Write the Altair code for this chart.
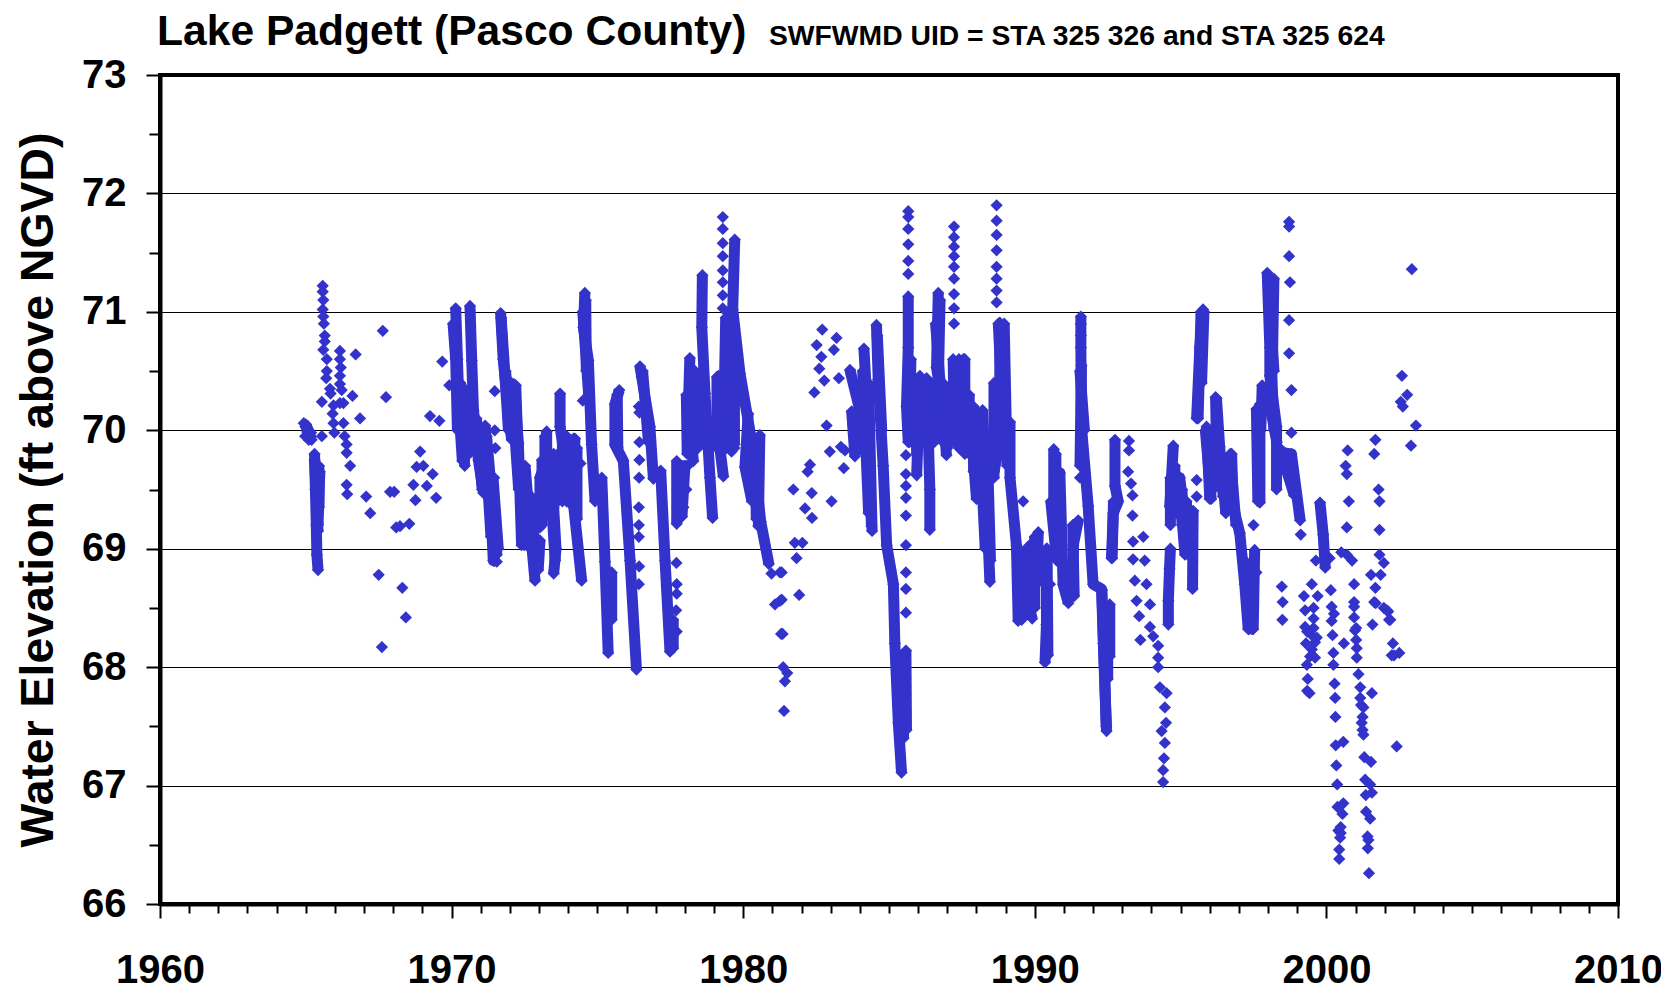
import altair as alt
import pandas as pd

TITLE = "Lake Padgett (Pasco County)"
SUBTITLE = "SWFWMD UID = STA 325 326 and STA 325 624"
Y_TITLE = "Water Elevation (ft above NGVD)"
COLOR = "#3333CC"
FONT = "Liberation Sans"

x_ticks = list(range(1960, 2011))
y_ticks = [66 + i * 0.5 for i in range(15)]

# Isolated readings (year, elevation)
points_1960s = [
    (1965.58,71.22),(1965.58,71.17),(1965.6,71.1),(1965.58,71.02),(1965.6,70.96),(1965.62,70.9),(1965.65,70.8),(1965.65,70.75),
    (1965.6,70.68),(1965.72,70.6),(1965.72,70.5),(1965.7,70.44),(1965.83,70.35),(1965.85,70.31),(1965.95,70.21),(1965.92,70.14),
    (1965.95,70.06),(1965.98,69.98),(1966.17,70.67),(1966.17,70.6),(1966.2,70.53),(1966.17,70.46),(1966.17,70.39),(1966.23,70.34),
    (1966.29,70.23),(1966.17,70.23),(1966.6,70.29),(1966.71,70.64),(1965.55,70.24),(1966.29,70.06),(1966.33,69.95),(1966.4,69.88),
    (1966.4,69.81),(1966.52,69.7),(1966.4,69.54),(1966.42,69.46),(1966.86,70.1),(1967.07,69.44),(1967.21,69.3),(1967.5,68.78),
    (1967.64,70.84),(1967.75,70.28),(1967.61,68.17),(1967.89,69.48),(1968.03,69.48),(1968.1,69.18),(1968.23,69.19),(1968.55,69.21),
    (1968.31,68.67),(1968.43,68.42),(1968.69,69.54),(1969.15,69.53),(1968.76,69.41),(1969.47,69.43),(1969.35,69.63),(1968.8,69.69),
    (1969.03,69.7),(1968.92,69.82),(1969.26,70.12),(1969.58,70.08),(1969.68,70.58),(1969.92,70.38),(1965.55,69.95),
]
points_1970s = [
    (1971.48,70.33),(1971.48,70.0),(1971.5,69.85),(1971.46,69.6),(1973.0,69.05),(1974.42,69.72),(1974.5,70.25),
    (1976.44,69.75),(1976.44,69.9),(1976.43,69.6),(1976.42,69.35),(1976.42,69.2),(1976.42,69.1),(1976.43,68.85),(1976.42,68.7),
    (1976.44,70.15),(1976.42,70.2),(1977.71,68.88),(1977.72,68.7),(1977.72,68.62),(1977.7,68.48),(1977.72,68.3),
    (1979.3,71.8),(1979.3,71.7),(1979.3,71.58),(1979.3,71.47),(1979.3,71.35),(1979.3,71.25),(1979.3,71.14),(1979.3,71.03),
]
points_1980s = [
    (1980.97,68.79),(1981.26,68.8),(1981.09,68.53),(1981.26,68.56),(1981.3,68.28),
    (1982.71,70.85),(1982.52,70.72),(1983.2,70.78),(1982.68,70.62),(1983.11,70.68),(1982.61,70.52),(1982.78,70.42),(1983.28,70.44),
    (1982.44,70.32),(1982.86,70.04),(1982.97,69.82),(1983.35,69.86),(1983.49,69.83),(1983.45,69.68),(1983.03,69.4),(1982.29,69.71),
    (1982.21,69.65),(1981.72,69.5),(1982.35,69.47),(1982.12,69.34),(1982.36,69.26),(1981.77,69.05),(1982.03,69.05),(1981.83,68.92),
    (1981.92,68.61),(1981.32,68.8),(1981.32,68.57),(1981.35,68.28),(1981.37,68.0),(1981.51,67.95),(1981.43,67.88),(1981.4,67.63),
    (1985.58,68.46),(1985.58,68.66),(1985.58,68.8),(1985.58,69.03),(1985.58,69.28),(1985.58,69.43),(1985.58,69.53),(1985.58,69.63),(1985.58,69.79),
    (1985.66,71.85),(1985.66,71.8),(1985.66,71.7),(1985.66,71.57),(1985.66,71.43),(1985.66,71.32),
    (1987.23,71.72),(1987.23,71.63),(1987.23,71.55),(1987.23,71.47),(1987.23,71.38),(1987.23,71.28),(1987.23,71.15),(1987.23,71.03),(1987.23,70.9),
    (1988.69,71.9),(1988.69,71.77),(1988.69,71.65),(1988.69,71.52),(1988.69,71.38),(1988.69,71.28),(1988.69,71.18),(1988.69,71.08),
    (1989.6,69.4),(1990.4,69.0),(1990.52,68.7),(1990.47,68.95),
]
points_1990s = [
    (1991.58,70.9),(1991.58,70.8),(1991.55,69.6),
    (1993.23,69.91),(1993.23,69.83),(1993.2,69.65),(1993.3,69.55),(1993.35,69.45),(1993.35,69.28),(1993.37,69.06),(1993.37,68.91),
    (1993.43,68.73),(1993.49,68.56),(1993.72,69.1),(1993.77,68.9),(1993.83,68.7),(1993.95,68.53),(1993.58,68.43),(1993.62,68.23),
    (1993.95,68.34),(1994.06,68.26),(1994.23,68.18),(1994.23,68.08),(1994.23,68.0),(1994.29,67.83),(1994.52,67.78),(1994.46,67.66),
    (1994.5,67.53),(1994.35,67.46),(1994.46,67.36),(1994.43,67.23),(1994.4,67.13),(1994.4,67.03),
    (1995.55,69.58),(1995.55,69.44),(1996.0,69.6),(1997.6,68.8),(1997.5,69.2),
    (1998.47,68.68),(1998.5,68.55),(1998.49,68.4),
    (1998.72,71.76),(1998.72,71.72),(1998.72,71.47),(1998.75,71.25),(1998.72,70.93),(1998.72,70.65),(1998.8,70.34),(1998.8,69.98),
    (1999.34,67.8),(1999.33,68.02),(1999.36,67.9),(1999.42,67.78),(1999.56,68.5),(1999.27,68.48),(1999.56,68.41),(1999.27,68.34),
    (1999.56,68.33),(1999.5,68.27),(1999.67,68.25),(1999.61,68.21),(1999.3,68.2),(1999.5,68.15),(1999.61,68.08),(1999.44,68.09),
    (1999.23,68.6),(1999.34,68.3),(1999.12,69.12),(1999.5,68.7),(1999.7,68.6),(1999.64,68.9),
]
points_2000s = [
    (2000.18,68.51),(2000.18,68.39),(2000.21,68.27),(2000.24,68.12),(2000.24,68.02),(2000.28,67.86),(2000.3,67.74),(2000.31,67.58),
    (2000.32,67.34),(2000.58,67.37),(2000.34,67.17),(2000.37,67.01),(2000.58,66.85),(2000.38,66.82),(2000.55,66.76),(2000.49,66.65),
    (2000.41,66.62),(2000.49,66.6),(2000.47,66.56),(2000.44,66.46),(2000.44,66.38),(2000.6,68.2),
    (2000.95,68.51),(2000.95,68.42),(2000.98,68.31),(2001.02,68.23),(2001.04,68.16),(2001.04,68.08),(2001.1,67.94),(2001.16,67.83),
    (2001.16,67.74),(2001.19,67.68),(2001.27,67.66),(2001.24,67.58),(2001.21,67.53),(2001.24,67.47),(2001.27,67.43),(2001.3,67.24),
    (2001.53,67.2),(2001.33,67.05),(2001.5,67.01),(2001.56,66.94),(2001.35,66.92),(2001.36,66.78),(2001.5,66.72),(2001.41,66.57),
    (2001.44,66.54),(2001.42,66.47),(2001.46,66.26),(2001.56,67.78),(2001.58,68.36),(2001.69,68.54),(2002.07,68.48),(2002.15,68.4),
    (2002.28,68.2),(2002.24,68.1),(2002.32,68.1),(2002.5,68.12),(2002.41,67.33),
    (2000.73,69.83),(2000.66,69.7),(2000.7,69.63),(2000.77,69.4),(2000.7,69.18),(2000.7,68.95),(2000.88,68.9),(2000.95,68.7),(2000.95,68.55),
    (2001.02,68.33),(2000.11,68.92),(2000.15,68.65),(2000.26,68.45),(2000.51,68.97),
    (2001.68,69.92),(2001.64,69.8),(2001.79,69.5),(2001.82,69.4),(2001.82,69.16),(2001.82,68.95),(2001.97,68.88),(2001.86,68.78),
    (2001.53,68.78),(2001.68,68.67),(2001.64,68.55),(2001.97,68.5),(2002.12,68.47),(2002.19,68.4),
    (2002.59,70.46),(2002.77,70.3),(2002.55,70.24),(2002.62,70.2),(2003.07,70.04),(2002.93,71.36),(2002.9,69.87),
]

# Dense runs where the readings merge into bands: vertices read along each band
bands_1960s = [
    [(1964.93,70.06),(1965.05,70.02),(1965.2,69.92)],
    [(1964.98,69.95),(1965.18,69.98)],
    [(1965.0,70.05),(1965.1,69.92)],
    [(1965.3,69.8),(1965.33,69.5),(1965.36,69.2),(1965.38,68.95),(1965.42,68.82)],
    [(1965.45,69.7),(1965.45,69.35)],
    [(1965.3,69.75),(1965.42,69.15)],
    [(1965.48,69.65),(1965.42,69.2)],
]
bands_1970s = [
    [(1970.14,71.03),(1970.2,70.6),(1970.26,70.15),(1970.37,69.74)],
    [(1970.05,70.9),(1970.14,70.6),(1970.2,70.0)],
    [(1970.3,70.4),(1970.45,69.7)],
    [(1970.45,70.35),(1970.6,69.8)],
    [(1970.5,70.2),(1970.6,69.9)],
    [(1970.25,70.4),(1970.5,70.1)],
    [(1970.63,71.05),(1970.69,70.59),(1970.75,70.17),(1970.92,69.75),(1971.09,69.47)],
    [(1970.85,70.1),(1971.05,69.5)],
    [(1971.15,70.04),(1971.32,69.47),(1971.43,68.9),(1971.55,68.89)],
    [(1971.2,69.95),(1971.55,68.95)],
    [(1971.2,69.7),(1971.35,69.1)],
    [(1971.42,69.6),(1971.6,69.0)],
    [(1971.68,70.99),(1971.77,70.6),(1972.0,70.03),(1972.06,69.92)],
    [(1971.7,70.95),(1971.95,70.0)],
    [(1971.85,70.5),(1972.02,70.0)],
    [(1972.14,70.39),(1972.29,69.89),(1972.4,69.03)],
    [(1972.05,70.4),(1972.3,69.5)],
    [(1972.2,70.38),(1972.32,69.5)],
    [(1972.4,69.7),(1972.5,69.03)],
    [(1972.52,69.7),(1972.69,69.19),(1972.86,68.73)],
    [(1972.7,69.45),(1972.9,68.9)],
    [(1972.55,69.5),(1972.7,69.0)],
    [(1973.03,69.07),(1972.97,68.82)],
    [(1973.26,69.99),(1973.26,69.75),(1973.03,69.6),(1973.03,69.18)],
    [(1973.5,69.35),(1973.58,69.0),(1973.5,68.79)],
    [(1973.45,69.3),(1973.55,68.9)],
    [(1973.72,70.31),(1973.72,70.03),(1973.89,69.75),(1973.95,69.4)],
    [(1973.1,69.75),(1973.1,69.2)],
    [(1973.2,69.95),(1973.2,69.3)],
    [(1973.35,69.8),(1973.35,69.4)],
    [(1973.5,69.8),(1973.5,69.4)],
    [(1973.65,69.8),(1973.65,69.4)],
    [(1973.8,69.95),(1973.8,69.4)],
    [(1973.95,69.95),(1973.95,69.4)],
    [(1974.05,69.9),(1974.05,69.4)],
    [(1974.18,69.93),(1974.18,69.35)],
    [(1974.3,69.85),(1974.3,69.25)],
    [(1974.23,69.93),(1974.17,69.4),(1974.46,68.73)],
    [(1974.57,71.16),(1974.52,70.87),(1974.69,70.59),(1974.8,69.88),(1974.92,69.4)],
    [(1974.5,71.0),(1974.7,70.3)],
    [(1974.6,71.1),(1974.62,70.5)],
    [(1975.15,69.6),(1975.26,68.89),(1975.37,68.12)],
    [(1975.49,68.8),(1975.49,68.4)],
    [(1975.75,70.34),(1975.6,70.22),(1975.6,69.88),(1975.89,69.74),(1976.12,68.9),(1976.34,67.98)],
    [(1975.68,70.3),(1975.7,69.85)],
    [(1976.46,70.54),(1976.52,70.45),(1976.8,70.03),(1976.92,69.59)],
    [(1976.55,70.5),(1976.75,69.9)],
    [(1977.17,69.66),(1977.32,68.9),(1977.49,68.13)],
    [(1977.6,68.4),(1977.6,68.16)],
    [(1977.72,69.74),(1977.72,69.21)],
    [(1978.0,69.7),(1977.9,69.27)],
    [(1977.8,69.7),(1978.1,69.7)],
    [(1977.75,69.5),(1978.05,69.5)],
    [(1977.75,69.35),(1977.95,69.35)],
    [(1978.17,70.61),(1978.12,70.2),(1978.29,69.74)],
    [(1978.05,70.3),(1978.08,69.8)],
    [(1978.35,70.5),(1978.3,69.9)],
    [(1978.45,70.4),(1978.45,69.85)],
    [(1978.6,71.31),(1978.58,70.87),(1978.69,70.31),(1978.86,69.6),(1978.95,69.26)],
    [(1979.1,70.45),(1979.1,69.85)],
    [(1979.15,70.46),(1979.2,69.85),(1979.32,69.61)],
    [(1979.25,70.4),(1979.3,69.85)],
    [(1979.4,70.95),(1979.35,70.3),(1979.42,69.85)],
    [(1979.45,70.5),(1979.45,69.9)],
    [(1979.0,69.9),(1979.7,69.85)],
    [(1979.6,70.66),(1979.6,69.82)],
    [(1979.7,70.6),(1979.7,69.88)],
    [(1979.5,71.0),(1979.55,70.0)],
    [(1979.71,71.61),(1979.64,71.02),(1979.89,70.48),(1980.33,69.85),(1980.6,69.23),(1980.88,68.87)],
    [(1980.17,70.14),(1980.06,69.69),(1980.3,69.4)],
    [(1980.57,69.96),(1980.52,69.19)],
    [(1980.4,69.9),(1980.45,69.25)],
]
bands_1980s = [
    [(1983.72,70.16),(1983.83,69.78)],
    [(1983.9,70.16),(1983.85,69.8)],
    [(1983.66,70.51),(1984.0,70.17)],
    [(1984.14,70.69),(1984.29,70.03),(1984.33,69.6),(1984.4,69.19)],
    [(1984.1,70.5),(1984.3,69.3)],
    [(1984.3,70.4),(1984.42,69.15)],
    [(1984.57,70.89),(1984.63,70.43),(1984.8,69.7),(1984.92,69.03),(1985.15,68.7),(1985.2,68.2),(1985.32,67.53),(1985.43,67.11)],
    [(1984.6,70.8),(1984.75,70.0)],
    [(1985.58,68.14),(1985.6,67.47)],
    [(1985.45,68.1),(1985.5,67.4)],
    [(1985.66,71.13),(1985.66,70.7),(1985.6,70.2),(1985.66,69.9)],
    [(1985.75,70.6),(1985.7,69.9)],
    [(1985.8,70.4),(1985.8,69.9)],
    [(1986.06,70.46),(1985.95,69.62)],
    [(1985.9,70.4),(1985.95,69.8)],
    [(1986.15,70.43),(1986.15,69.9)],
    [(1986.29,70.44),(1986.4,69.5),(1986.4,69.16)],
    [(1986.45,70.4),(1986.5,69.9)],
    [(1986.55,70.4),(1986.55,69.9)],
    [(1986.69,71.16),(1986.63,70.53),(1986.86,70.16),(1986.97,69.79)],
    [(1986.6,70.9),(1986.75,70.4)],
    [(1986.75,71.1),(1986.7,70.5)],
    [(1986.85,70.4),(1986.85,69.9)],
    [(1987.55,70.6),(1987.32,70.53),(1987.09,70.26),(1987.43,69.86)],
    [(1987.0,70.3),(1987.0,69.85)],
    [(1987.2,70.6),(1987.25,69.9)],
    [(1987.4,70.6),(1987.4,69.85)],
    [(1987.6,70.6),(1987.6,69.8)],
    [(1987.75,70.3),(1987.75,69.8)],
    [(1987.9,70.2),(1987.9,69.65)],
    [(1987.77,70.17),(1988.0,69.42)],
    [(1988.21,70.17),(1988.35,69.36),(1988.46,68.72)],
    [(1988.1,70.0),(1988.3,69.0)],
    [(1988.4,69.6),(1988.48,68.9)],
    [(1988.8,70.91),(1988.8,70.37),(1988.57,69.86)],
    [(1988.75,70.9),(1988.92,70.03),(1988.6,69.65)],
    [(1988.6,70.4),(1988.6,69.6)],
    [(1988.95,70.9),(1989.05,69.7)],
    [(1989.15,70.07),(1989.15,69.6),(1989.37,69.03),(1989.43,68.39)],
    [(1989.55,68.95),(1989.55,68.4)],
    [(1989.7,69.0),(1989.7,68.45)],
    [(1989.77,68.92),(1989.77,68.53),(1989.91,68.41)],
    [(1989.9,69.05),(1989.9,68.5)],
    [(1990.0,69.1),(1990.0,68.5)],
    [(1990.12,69.14),(1990.06,68.7)],
]
bands_1990s = [
    [(1990.4,68.82),(1990.4,68.36),(1990.35,68.04)],
    [(1990.42,69.0),(1990.45,68.1)],
    [(1990.65,69.84),(1990.65,69.36),(1990.86,69.64),(1990.97,68.7),(1991.15,68.54)],
    [(1990.72,69.8),(1990.75,69.2)],
    [(1990.55,69.4),(1990.75,68.9)],
    [(1991.49,69.24),(1991.32,69.03),(1991.32,68.66)],
    [(1991.3,69.2),(1991.35,68.6)],
    [(1991.58,70.96),(1991.58,70.7),(1991.6,70.03),(1991.83,69.36),(1992.0,68.7),(1992.29,68.66),(1992.35,68.2),(1992.46,67.46)],
    [(1991.6,70.55),(1991.55,69.7)],
    [(1991.55,70.5),(1991.7,70.0)],
    [(1992.3,68.65),(1992.45,67.5)],
    [(1992.57,68.53),(1992.57,68.09)],
    [(1992.5,68.4),(1992.5,67.9)],
    [(1992.75,69.92),(1992.75,69.53),(1992.86,69.4),(1992.69,69.3),(1992.63,68.92)],
    [(1992.7,69.4),(1992.65,68.92)],
    [(1994.58,68.36),(1994.58,68.56),(1994.62,68.83),(1994.65,69.0)],
    [(1994.75,69.87),(1994.63,69.36),(1994.97,69.6),(1995.2,69.13)],
    [(1994.65,69.6),(1994.65,69.2)],
    [(1994.8,69.7),(1994.85,69.3)],
    [(1994.95,69.55),(1995.15,68.95)],
    [(1995.05,69.5),(1995.05,69.2)],
    [(1995.2,69.4),(1995.25,68.95)],
    [(1995.43,69.32),(1995.41,68.66)],
    [(1995.77,71.02),(1995.66,70.7),(1995.55,70.1)],
    [(1995.7,71.0),(1995.6,70.1)],
    [(1995.8,71.0),(1995.72,70.4)],
    [(1995.89,70.03),(1996.0,69.42)],
    [(1995.85,70.0),(1996.05,69.42)],
    [(1996.0,70.0),(1996.12,69.5)],
    [(1996.23,70.27),(1996.34,69.86),(1996.46,69.44)],
    [(1996.2,70.28),(1996.25,69.6)],
    [(1996.4,69.7),(1996.55,69.3)],
    [(1996.75,69.8),(1996.8,69.36),(1997.03,69.13),(1997.2,68.7),(1997.32,68.32)],
    [(1996.7,69.8),(1996.9,69.2)],
    [(1997.2,68.9),(1997.35,68.32)],
    [(1997.4,68.7),(1997.45,68.32)],
    [(1997.49,68.32),(1997.54,68.99)],
    [(1997.72,70.22),(1997.72,69.39)],
    [(1997.6,70.18),(1997.65,69.4)],
    [(1997.8,70.38),(1997.75,70.0)],
    [(1997.97,71.33),(1998.06,70.7),(1998.06,70.46),(1998.29,70.03),(1998.29,69.5)],
    [(1998.2,71.28),(1998.15,70.6)],
    [(1998.0,71.3),(1998.2,70.0)],
    [(1998.1,70.9),(1998.2,70.5)],
    [(1998.0,70.3),(1998.3,69.9)],
    [(1998.5,69.81),(1998.8,69.8),(1999.1,69.24)],
    [(1998.4,69.85),(1998.9,69.45)],
    [(1999.78,69.39),(1999.89,69.12),(1999.96,68.84)],
]

points = points_1960s + points_1970s + points_1980s + points_1990s + points_2000s
bands = bands_1960s + bands_1970s + bands_1980s + bands_1990s

point_df = pd.DataFrame(points, columns=["year", "elev"])
band_df = pd.DataFrame(
    [(i, j, y, e) for i, band in enumerate(bands) for j, (y, e) in enumerate(band)],
    columns=["band", "step", "year", "elev"],
)

TICK_MAJOR = "datum.value % 1 === 0"
x_enc = alt.X(
    "year:Q",
    scale=alt.Scale(domain=[1960, 2010], nice=False, zero=False),
    axis=alt.Axis(
        title=None, values=x_ticks, grid=False, format="d",
        labelExpr="datum.value % 10 === 0 ? datum.label : ''",
        labelOverlap=False, labelFlush=False,
        labelFont=FONT, labelFontWeight="bold", labelFontSize=40, labelColor="black", labelPadding=32,
        tickColor="black", tickWidth=2,
        tickSize={"condition": {"test": "datum.value % 10 === 0", "value": 14}, "value": 9},
        domainColor="black", domainWidth=4,
    ),
)
y_enc = alt.Y(
    "elev:Q",
    scale=alt.Scale(domain=[66, 73], nice=False, zero=False),
    axis=alt.Axis(
        title=Y_TITLE, values=y_ticks,
        labelExpr=f"{TICK_MAJOR} ? format(datum.value, 'd') : ''",
        labelOverlap=False, labelFlush=False,
        labelFont=FONT, labelFontWeight="bold", labelFontSize=40, labelColor="black", labelPadding=20,
        tickColor="black", tickWidth=2,
        tickSize={"condition": {"test": TICK_MAJOR, "value": 14}, "value": 11},
        domainColor="black", domainWidth=4,
        grid=True, gridColor="black", gridWidth=1,
        gridOpacity={"condition": {"test": TICK_MAJOR, "value": 1}, "value": 0},
        titleFont=FONT, titleFontWeight="bold", titleFontSize=46.4, titleColor="black",
        titleX=-108, titleBaseline="alphabetic", titleAngle=270,
    ),
)

band_lines = alt.Chart(band_df).mark_line(
    color=COLOR, strokeWidth=11, strokeCap="butt", strokeJoin="round", clip=False
).encode(x=x_enc, y=y_enc, detail="band:N", order=alt.Order("step:Q"))

band_points = alt.Chart(band_df).mark_point(
    shape="diamond", filled=True, color=COLOR, size=150, opacity=1
).encode(x=x_enc, y=y_enc)

scatter = alt.Chart(point_df).mark_point(
    shape="diamond", filled=True, color=COLOR, size=150, opacity=1
).encode(x=x_enc, y=y_enc)

title_mark = alt.Chart(pd.DataFrame({"t": [TITLE]})).mark_text(
    font=FONT, fontWeight="bold", fontSize=42.6, color="black", align="left", baseline="alphabetic"
).encode(text="t:N", x=alt.value(-3), y=alt.value(-30))

sub_mark = alt.Chart(pd.DataFrame({"t": [SUBTITLE]})).mark_text(
    font=FONT, fontWeight="bold", fontSize=28.3, color="black", align="left", baseline="alphabetic"
).encode(text="t:N", x=alt.value(609), y=alt.value(-30))

chart = (
    alt.layer(band_lines, band_points, scatter, title_mark, sub_mark)
    .properties(
        width=1458,
        height=829,
        autosize=alt.AutoSizeParams(type="none"),
        padding={"left": 152, "top": 67, "right": 43, "bottom": 82},
        background="white",
    )
    .configure_view(stroke="black", strokeWidth=4)
)

chart.save("out.html", embed_options={"renderer": "svg", "actions": False})
